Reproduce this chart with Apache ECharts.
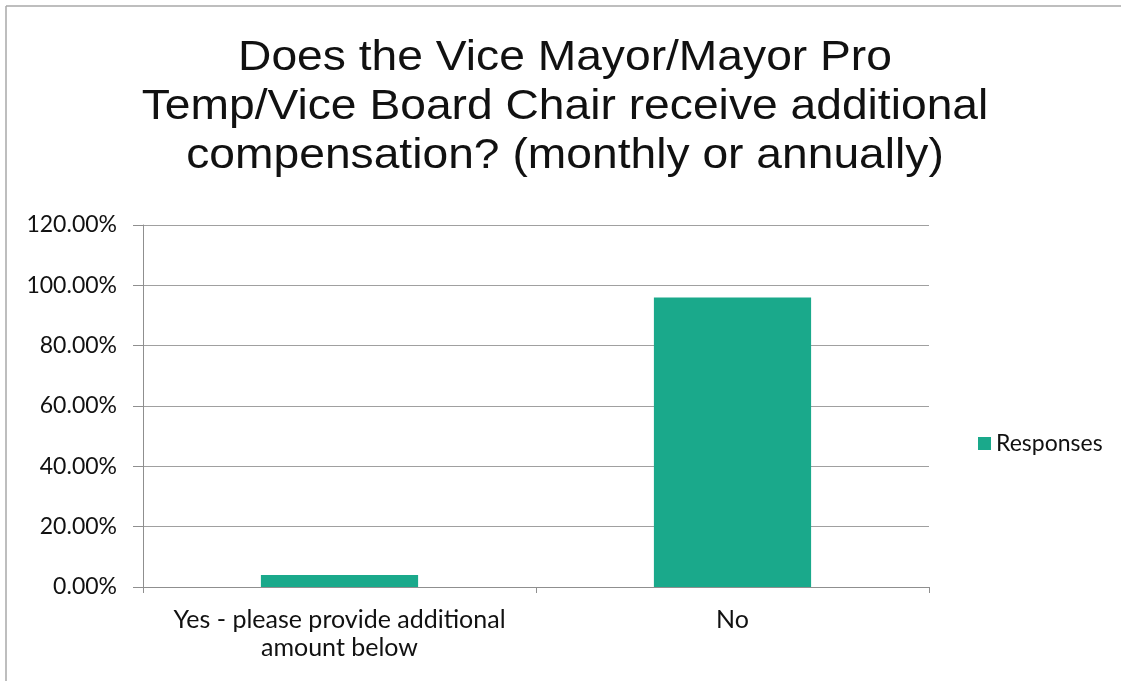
<!DOCTYPE html>
<html>
<head>
<meta charset="utf-8">
<script src="https://cdn.jsdelivr.net/npm/echarts@6/dist/echarts.min.js"></script>
<style>
  html, body { margin: 0; padding: 0; background: #ffffff; }
  #chart { width: 1121px; height: 681px; }
</style>
</head>
<body>
<div id="chart"></div>
<script>
// Survey answers and their share of responses (percent)
const categories = ['Yes - please provide additional\namount below', 'No'];
const responses = [4.00, 96.00];
const seriesName = 'Responses';
const titleLines = [
  'Does the Vice Mayor/Mayor Pro',
  'Temp/Vice Board Chair receive additional',
  'compensation? (monthly or annually)'
];

const chart = echarts.init(document.getElementById('chart'));

const axisGray = '#8f8f8f';
const labelFont = 'Lato, Carlito, "Liberation Sans", sans-serif';

chart.setOption({
  backgroundColor: '#ffffff',
  animation: false,
  legend: {
    data: [seriesName],
    orient: 'vertical',
    left: 973,
    top: 427,
    icon: 'rect',
    itemWidth: 13,
    itemHeight: 13,
    itemGap: 8,
    textStyle: { fontFamily: labelFont, fontSize: 23, color: '#111111' }
  },
  grid: { left: 143, right: 192, top: 225, bottom: 94, containLabel: false },
  xAxis: {
    type: 'category',
    data: categories,
    axisLine: { lineStyle: { color: axisGray, width: 1 } },
    axisTick: { show: true, length: 6, lineStyle: { color: axisGray } },
    axisLabel: {
      interval: 0,
      hideOverlap: false,
      margin: 19,
      fontFamily: labelFont,
      fontSize: 25,
      lineHeight: 28,
      color: '#111111'
    }
  },
  yAxis: {
    type: 'value',
    min: 0,
    max: 120,
    interval: 20,
    axisLine: { show: true, lineStyle: { color: axisGray, width: 1 } },
    axisTick: { show: true, length: 10, lineStyle: { color: axisGray } },
    splitLine: { show: true, lineStyle: { color: '#a0a0a0', width: 1 } },
    axisLabel: {
      margin: 26,
      fontFamily: labelFont,
      fontSize: 23,
      color: '#111111',
      formatter: v => v.toFixed(2) + '%'
    }
  },
  series: [{
    name: seriesName,
    type: 'bar',
    data: responses,
    barCategoryGap: '60%',
    itemStyle: { color: '#1aa98b' }
  }],
  graphic: [
    // page frame around the chart
    { type: 'line', shape: { x1: 6, y1: 6, x2: 1121, y2: 6 }, style: { stroke: '#a8a8a8', lineWidth: 1.5 } },
    { type: 'line', shape: { x1: 6, y1: 6, x2: 6, y2: 681 }, style: { stroke: '#a8a8a8', lineWidth: 1.5 } },
    // chart title, slightly widened type
    {
      type: 'text',
      x: 565,
      y: 34,
      scaleX: 1.1,
      style: {
        text: titleLines.join('\n'),
        font: '42px "Liberation Sans", Arial, sans-serif',
        lineHeight: 49,
        align: 'center',
        verticalAlign: 'top',
        fill: '#111111'
      }
    }
  ]
});
</script>
</body>
</html>
